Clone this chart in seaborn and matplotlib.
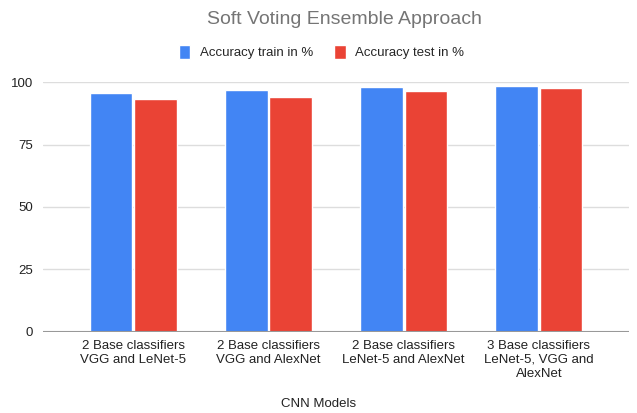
import pandas as pd
import matplotlib.pyplot as plt
import seaborn as sns

# Values
models = ['2 Base classifiers\nVGG and LeNet-5',
          '2 Base classifiers\nVGG and AlexNet',
          '2 Base classifiers\nLeNet-5 and AlexNet',
          '3 Base classifiers\nLeNet-5, VGG and\nAlexNet']
train_acc = [95.5, 96.7, 98.0, 98.5]
test_acc = [93.4, 94.0, 96.3, 97.5]
series = ['Accuracy train in %', 'Accuracy test in %']
yticks = [0, 25, 50, 75, 100]

df = pd.DataFrame({
    'model': models * 2,
    'accuracy': train_acc + test_acc,
    'series': [series[0]] * len(models) + [series[1]] * len(models),
})

sns.set_style('white')
plt.rcParams['font.family'] = ['Liberation Sans', 'DejaVu Sans']

fig = plt.figure(figsize=(6.37, 4.13), dpi=100)
ax = fig.add_axes([0.0675, 0.197, 0.92, 0.604])

sns.barplot(data=df, x='model', y='accuracy', hue='series',
            palette=['#4285F4', '#EA4335'], width=0.655, gap=0.04,
            saturation=1, ax=ax, zorder=3)

ax.set_xlim(-0.667, 3.667)
ax.set_ylim(0, 100)
ax.set_yticks(yticks)
ax.yaxis.grid(True, color='#dddddd', linewidth=1, zorder=0)
ax.axhline(0, color='#999999', linewidth=1.5, zorder=4)
for s in ax.spines.values():
    s.set_visible(False)
ax.tick_params(axis='both', length=0, labelsize=9.5, colors='#222222')
ax.tick_params(axis='x', pad=6)
ax.tick_params(axis='y', pad=7)
ax.set_ylabel('')
ax.set_xlabel('')
fig.text(0.5, 1 - 404 / 413, 'CNN Models', ha='center', va='center',
         fontsize=9.5, color='#222222')

handles, labels = ax.get_legend_handles_labels()
ax.get_legend().remove()
fig.legend(handles, labels, loc='center', bbox_to_anchor=(0.505, 0.873), ncol=2,
           frameon=False, fontsize=9.5, handlelength=0.85, handleheight=1.15,
           columnspacing=1.6, handletextpad=0.75)

fig.suptitle('Soft Voting Ensemble Approach', x=0.54, y=1 - 20 / 413, va='center',
             fontsize=14, color='#757575')

fig.savefig('out.png', dpi=100)
